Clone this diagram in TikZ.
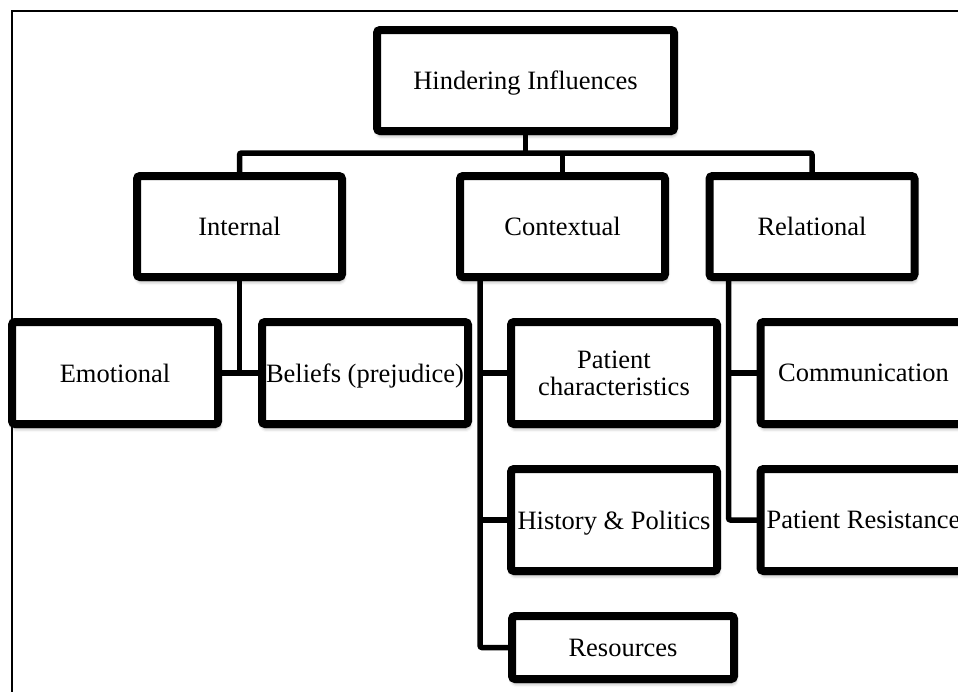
\documentclass[tikz,border=0pt]{standalone}
\usepackage{fontspec}
\setmainfont{Liberation Serif}
\usetikzlibrary{shadows.blur,backgrounds}
\begin{document}
\begin{tikzpicture}[x=1pt,y=-1pt,
  box/.style={draw=black, line width=8pt, fill=white, rounded corners=3pt,
    inner sep=0pt, outer sep=0pt, minimum width=205pt, minimum height=101pt,
    align=center, text depth=0pt, font=\fontsize{26.5}{27}\selectfont,
    blur shadow={shadow xshift=1pt, shadow yshift=-4pt, shadow blur radius=4pt, shadow opacity=45}},
  leaf/.style={box, minimum width=206pt, minimum height=102pt},
  link/.style={draw=black, line width=5.5pt, rounded corners=2pt}]
\clip (0,0) rectangle (958,691);

% outer frame
\draw[line width=1.6pt] (12,11) rectangle (1000,730);

% root and first level
\node[box, minimum width=297pt] (top) at (525.5,80.5) {Hindering Influences};
\node[box] (internal) at (239.5,226.5) {Internal};
\node[box] (context) at (562.5,226.5) {Contextual};
\node[box] (relat) at (812,226.5) {Relational};

% second level
\node[leaf] (emot) at (115,373) {Emotional};
\node[leaf] (beliefs) at (365,373) {Beliefs (prejudice)};
\node[leaf] (patchar) at (614,373) {Patient\\characteristics};
\node[leaf] (history) at (614,520) {History \& Politics};
\node[box, minimum width=222pt, minimum height=63pt] (resources) at (623,647.5) {Resources};
\node[leaf] (comm) at (863.5,373) {Communication};
\node[leaf] (resist) at (863.5,520) {Patient Resistance};

% connectors
\begin{scope}[on background layer]
  \coordinate (bus) at (0,153);
  \draw[link] (top.south) -- (top.south |- bus);
  \draw[link] (internal.north) |- (relat.north |- bus) -- (relat.north);
  \draw[link] (context.north) -- (context.north |- bus);

  \draw[link] (internal.south) -- (internal.south |- emot.east);
  \draw[link] (emot.east) -- (beliefs.west);

  \coordinate (cs) at ([xshift=20pt]context.south west);
  \draw[link] (cs) |- (resources.west);
  \draw[link] (cs |- patchar.west) -- (patchar.west);
  \draw[link] (cs |- history.west) -- (history.west);

  \coordinate (rs) at ([xshift=19pt]relat.south west);
  \draw[link] (rs) |- (resist.west);
  \draw[link] (rs |- comm.west) -- (comm.west);
\end{scope}
\end{tikzpicture}
\end{document}
